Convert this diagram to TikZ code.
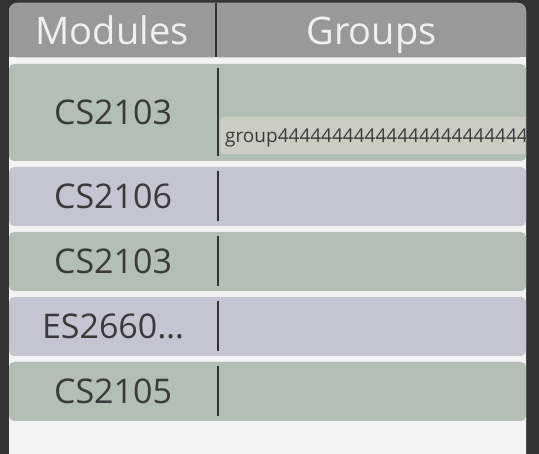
\documentclass[tikz,border=0pt]{standalone}
\usepackage{fontspec}
\setmainfont{Open Sans}
\definecolor{outer}{HTML}{333333}
\definecolor{panel}{HTML}{F3F3F3}
\definecolor{headgray}{HTML}{999999}
\definecolor{headtxt}{HTML}{F0F0F0}
\definecolor{rowgreen}{HTML}{B3BEB5}
\definecolor{rowlav}{HTML}{C4C4D2}
\definecolor{chipgray}{HTML}{CBCDC2}
\definecolor{txtdark}{HTML}{3A3A3A}
\tikzset{
  headtext/.style={text=headtxt, font=\fontsize{38}{44}\selectfont, inner sep=0pt, anchor=base},
  modtext/.style={text=txtdark, font=\fontsize{34}{40}\selectfont, inner sep=0pt, anchor=base},
  rowbox/.style={fill=#1, rounded corners=5pt, inner sep=0pt, minimum width=517pt},
  sep/.style={line width=2pt, draw=outer}
}
\begin{document}
\begin{tikzpicture}[x=1pt, y=-1pt, line join=round, line cap=butt]
\def\xl{9}\def\xr{526}\def\xs{218}
\useasboundingbox (0,0) rectangle (539,454);
\clip (0,0) rectangle (539,454);
\fill[outer] (0,0) rectangle (539,454);
\fill[panel, rounded corners=8pt] (\xl,3) rectangle (\xr,470);
% header
\fill[headgray, rounded corners=8pt] (\xl,3) rectangle (\xr,57.5);
\fill[headgray] (\xl,30) rectangle (\xr,57.5);
\draw[sep] (216,3) -- (216,57.5);
\node[headtext] (hmod) at (112,45) {Modules};
\node[headtext] (hgrp) at (371.5,45) {Groups};
% rows
\foreach \n/\t/\b/\c/\m in {r1/64/161/rowgreen/CS2103, r2/167/226/rowlav/CS2106,
  r3/232/291/rowgreen/CS2103, r4/297/356/rowlav/ES2660…, r5/362/421/rowgreen/CS2105}{
  \node[rowbox=\c, minimum height={(\b-\t)*1pt}] (\n) at (267.5,{(\t+\b)/2}) {};
  \node[modtext] (\n m) at (113,{(\t+\b)/2+12.5}) {\m};
  \draw[sep] (\xs,\t+4) -- (\xs,\b-5);
}
% group chip
\begin{scope}
\clip (\xs,64) rectangle (525.5,161);
\node[fill=chipgray, rounded corners=4pt, minimum height=37pt, minimum width=320pt,
  inner sep=0pt, anchor=west] (chip) at (220,135.5) {};
\node[text=txtdark, font=\fontsize{19}{21}\selectfont, inner sep=0pt, anchor=base west]
  (chipt) at (225,143) {group444444444444444444444444444};
\end{scope}
\end{tikzpicture}
\end{document}
